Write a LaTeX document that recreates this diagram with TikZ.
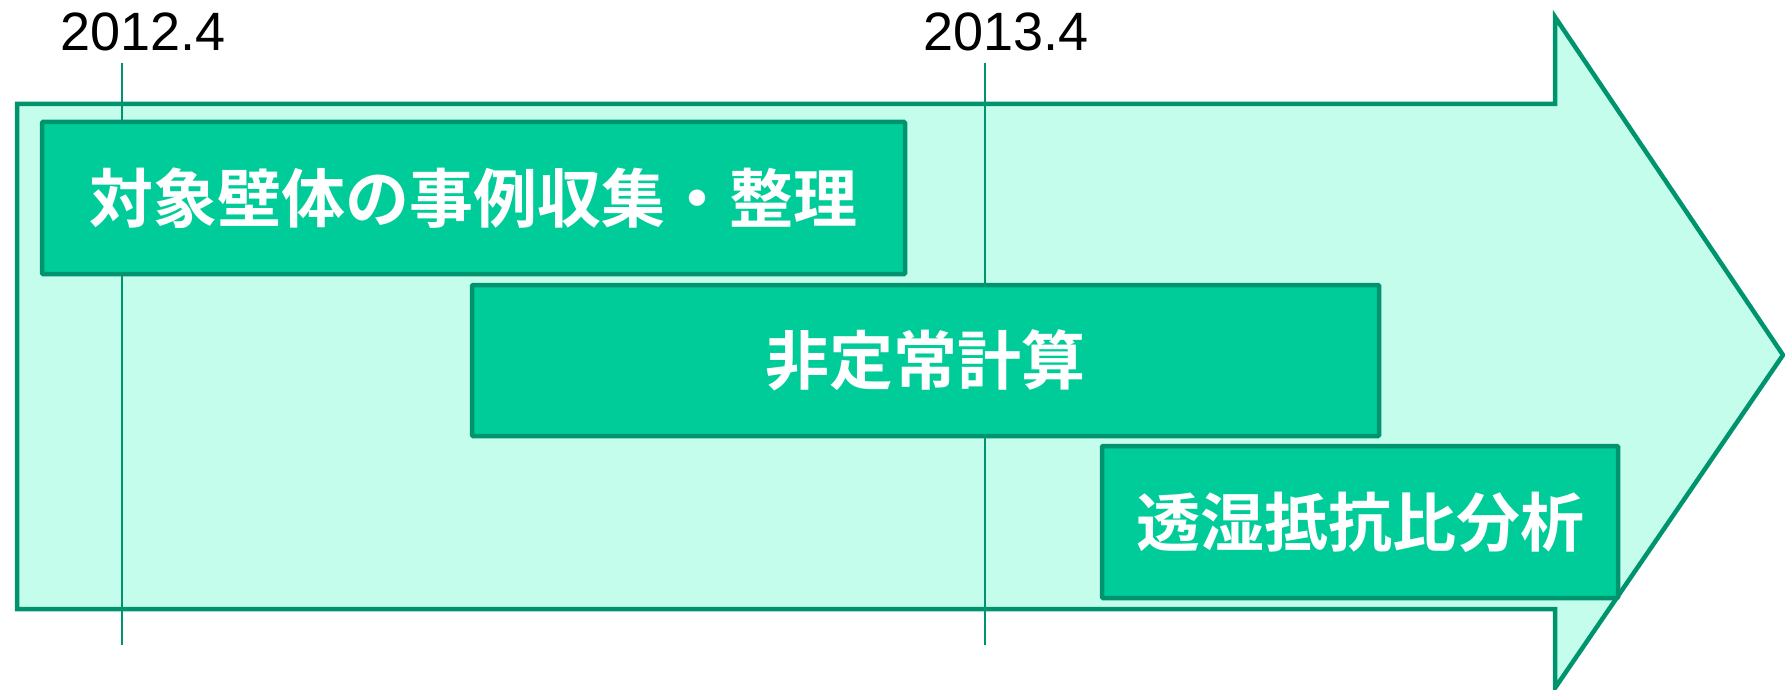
\documentclass[tikz,border=0pt]{standalone}
\usepackage{fontspec}
\setmainfont{Liberation Sans}
\newfontfamily\jpfont{Noto Sans CJK JP}[BoldFont={Noto Sans CJK JP Bold}]
\definecolor{mintbg}{RGB}{196,253,236}
\definecolor{boxfill}{RGB}{0,204,153}
\definecolor{darkline}{RGB}{0,148,110}

\begin{document}
\begin{tikzpicture}[x=1pt,y=-1pt,
	every node/.style={inner sep=0pt},
	task/.style={rectangle,draw=darkline,fill=boxfill,line width=4.5pt,rounded corners=1pt,text=white,font=\jpfont\bfseries\fontsize{64}{70}\selectfont},
	year/.style={anchor=base west,font=\fontsize{54}{60}\selectfont},
	tick/.style={draw=darkline,line width=2pt}]

\useasboundingbox (0,0) rectangle (1785,690);

% big arrow
\draw[darkline,fill=mintbg,line width=4.5pt,line join=miter]
	(17,104) -- (1555,104) -- (1555,17) -- (1783,355) -- (1555,688) -- (1555,609) -- (17,609) -- cycle;

% time marks
\node[year] (y1) at (60,51) {2012.4};
\node[year] (y2) at (923,51) {2013.4};
\coordinate (t1a) at (122,63);   \coordinate (t1b) at (122,645);
\coordinate (t2a) at (985,63);   \coordinate (t2b) at (985,645);
\draw[tick] (t1a) -- (t1b);
\draw[tick] (t2a) -- (t2b);

% tasks
\node[task,minimum width=863,minimum height=152] (case)  at (473.5,198)  {対象壁体の事例収集・整理};
\node[task,minimum width=907,minimum height=151] (calc)  at (925.5,360.5) {非定常計算};
\node[task,minimum width=516,minimum height=152] (ratio) at (1360,522)   {透湿抵抗比分析};

\end{tikzpicture}
\end{document}
